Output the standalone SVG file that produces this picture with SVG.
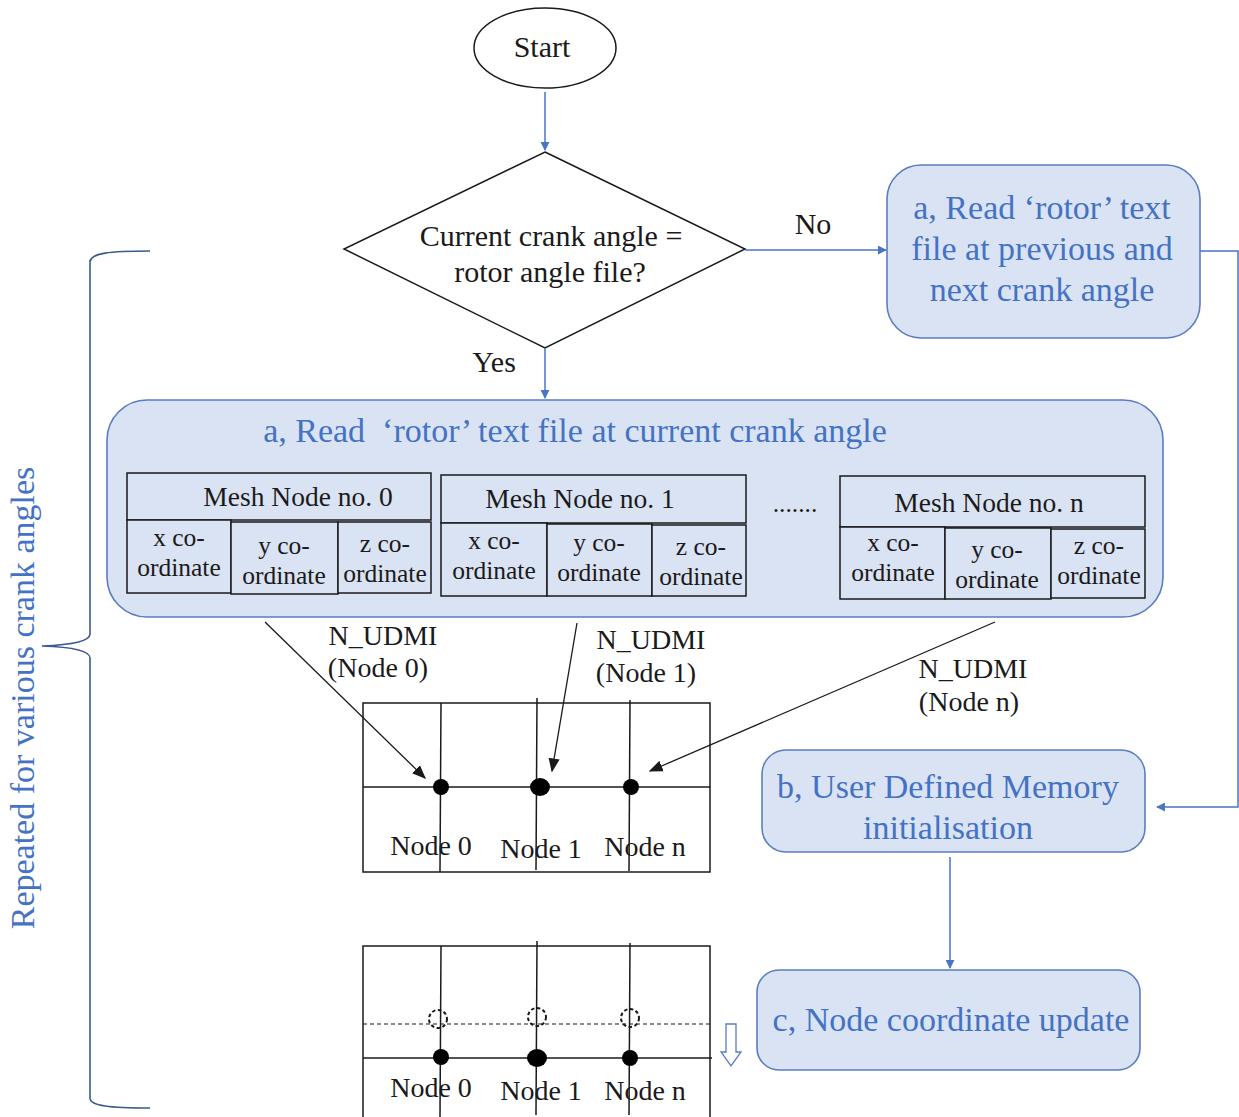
<svg xmlns="http://www.w3.org/2000/svg" width="1239" height="1117" viewBox="0 0 1239 1117">
  <style>
    .t { font-family: "Liberation Serif", "Times New Roman", serif; fill: #1a1a1a; font-size: 28px; }
    .big { font-size: 30px; }
    .hd { font-size: 27.5px; }
    .sm { font-size: 25.5px; }
    .blue { font-family: "Liberation Serif", "Times New Roman", serif; fill: #4472c4; font-size: 34px; }
    .box { fill: #dae3f3; stroke: #5a7dc0; stroke-width: 1.6; }
    .cell { fill: #dae3f3; stroke: #1a1a1a; stroke-width: 1.5; }
    .flow { fill: none; stroke: #4a74c4; stroke-width: 1.5; }
    .ptr { fill: none; stroke: #1a1a1a; stroke-width: 1.3; }
    .grid { fill: none; stroke: #1a1a1a; stroke-width: 1.5; }
  </style>
  <defs>
    <marker id="ab" viewBox="0 0 10 10" refX="9" refY="5" markerWidth="9" markerHeight="9" markerUnits="userSpaceOnUse" orient="auto">
      <path d="M0,0 L10,5 L0,10 z" fill="#4a74c4"/>
    </marker>
    <marker id="ak" viewBox="0 0 10 10" refX="9" refY="5" markerWidth="14" markerHeight="14" markerUnits="userSpaceOnUse" orient="auto">
      <path d="M0,1 L10,5 L0,9 z" fill="#1a1a1a"/>
    </marker>
  </defs>

  <!-- start terminator -->
  <g id="start">
    <ellipse cx="545" cy="48" rx="71" ry="40" fill="#fff" stroke="#1a1a1a" stroke-width="1.5"/>
    <text class="t big" x="542" y="57" text-anchor="middle">Start</text>
  </g>

  <!-- decision -->
  <g id="decision">
    <polygon points="545,152 745,249 545,348 344,249" fill="#fff" stroke="#1a1a1a" stroke-width="1.5"/>
    <text class="t big" x="551" y="246" text-anchor="middle">Current crank angle =</text>
    <text class="t big" x="550" y="282" text-anchor="middle">rotor angle file?</text>
  </g>

  <!-- read at previous/next angle -->
  <g id="read-neighbours">
    <rect class="box" x="887" y="165" width="313" height="173" rx="34"/>
    <text class="blue" x="1042" y="219" text-anchor="middle">a, Read ‘rotor’ text</text>
    <text class="blue" x="1042" y="260" text-anchor="middle">file at previous and</text>
    <text class="blue" x="1042" y="301" text-anchor="middle">next crank angle</text>
  </g>

  <!-- read at current angle -->
  <g id="read-current">
    <rect class="box" x="107" y="400" width="1056" height="217" rx="40"/>
    <text class="blue" x="575" y="442" text-anchor="middle" xml:space="preserve">a, Read  ‘rotor’ text file at current crank angle</text>
    <text class="t sm" x="795" y="512" text-anchor="middle">.......</text>
  </g>

  <g id="mesh-node-0">
    <rect class="cell" x="127" y="473" width="304" height="47"/>
    <rect class="cell" x="127" y="520" width="104" height="73"/>
    <rect class="cell" x="231" y="522" width="107" height="72" stroke-width="2.2"/>
    <rect class="cell" x="338" y="522" width="93" height="71"/>
    <text class="t hd" x="298" y="506" text-anchor="middle">Mesh Node no. 0</text>
    <text class="t sm" x="179" y="546" text-anchor="middle">x co-</text>
    <text class="t sm" x="179" y="576" text-anchor="middle">ordinate</text>
    <text class="t sm" x="284" y="554" text-anchor="middle">y co-</text>
    <text class="t sm" x="284" y="584" text-anchor="middle">ordinate</text>
    <text class="t sm" x="385" y="552" text-anchor="middle">z co-</text>
    <text class="t sm" x="385" y="582" text-anchor="middle">ordinate</text>
  </g>

  <g id="mesh-node-1">
    <rect class="cell" x="441" y="475" width="305" height="48"/>
    <rect class="cell" x="441" y="523" width="106" height="73"/>
    <rect class="cell" x="547" y="524" width="105" height="72"/>
    <rect class="cell" x="652" y="525" width="94" height="71"/>
    <text class="t hd" x="580" y="508" text-anchor="middle">Mesh Node no. 1</text>
    <text class="t sm" x="494" y="549" text-anchor="middle">x co-</text>
    <text class="t sm" x="494" y="579" text-anchor="middle">ordinate</text>
    <text class="t sm" x="599" y="551" text-anchor="middle">y co-</text>
    <text class="t sm" x="599" y="581" text-anchor="middle">ordinate</text>
    <text class="t sm" x="701" y="555" text-anchor="middle">z co-</text>
    <text class="t sm" x="701" y="585" text-anchor="middle">ordinate</text>
  </g>

  <g id="mesh-node-n">
    <rect class="cell" x="840" y="476" width="305" height="51"/>
    <rect class="cell" x="840" y="527" width="105" height="72"/>
    <rect class="cell" x="945" y="528" width="106" height="71"/>
    <rect class="cell" x="1051" y="529" width="94" height="69"/>
    <text class="t hd" x="989" y="512" text-anchor="middle">Mesh Node no. n</text>
    <text class="t sm" x="893" y="551" text-anchor="middle">x co-</text>
    <text class="t sm" x="893" y="581" text-anchor="middle">ordinate</text>
    <text class="t sm" x="997" y="558" text-anchor="middle">y co-</text>
    <text class="t sm" x="997" y="588" text-anchor="middle">ordinate</text>
    <text class="t sm" x="1099" y="554" text-anchor="middle">z co-</text>
    <text class="t sm" x="1099" y="584" text-anchor="middle">ordinate</text>
  </g>

  <!-- UDM initialisation -->
  <g id="udm-init">
    <rect class="box" x="762" y="750" width="383" height="102" rx="24"/>
    <text class="blue" x="948" y="798" text-anchor="middle">b, User Defined Memory</text>
    <text class="blue" x="948" y="839" text-anchor="middle">initialisation</text>
  </g>

  <!-- coordinate update -->
  <g id="coord-update">
    <rect class="box" x="757" y="970" width="383" height="100" rx="22"/>
    <text class="blue" x="951" y="1031" text-anchor="middle">c, Node coordinate update</text>
  </g>

  <!-- mesh before update -->
  <g id="mesh-before">
    <rect class="grid" x="363" y="703" width="347" height="169"/>
    <line class="grid" x1="363" y1="787" x2="710" y2="787"/>
    <line class="grid" x1="441" y1="703" x2="440" y2="872"/>
    <line class="grid" x1="537" y1="698" x2="536" y2="870"/>
    <line class="grid" x1="630" y1="700" x2="629" y2="871"/>
    <circle cx="441" cy="787" r="8" fill="#000"/>
    <ellipse cx="540" cy="787" rx="10" ry="9" fill="#000"/>
    <circle cx="631" cy="787" r="8" fill="#000"/>
    <text class="t" x="431" y="855" text-anchor="middle">Node 0</text>
    <text class="t" x="541" y="858" text-anchor="middle">Node 1</text>
    <text class="t" x="645" y="856" text-anchor="middle">Node n</text>
  </g>

  <!-- mesh after update -->
  <g id="mesh-after">
    <rect class="grid" x="363" y="946" width="347" height="175"/>
    <line x1="363" y1="1024" x2="710" y2="1024" stroke="#1a1a1a" stroke-width="1.2" stroke-dasharray="4,3"/>
    <line class="grid" x1="363" y1="1058" x2="712" y2="1058"/>
    <line class="grid" x1="441" y1="946" x2="440" y2="1117"/>
    <line class="grid" x1="537" y1="941" x2="536" y2="1115"/>
    <line class="grid" x1="630" y1="943" x2="629" y2="1115"/>
    <g fill="none" stroke="#1a1a1a" stroke-width="2" stroke-dasharray="3.5,2.5">
      <circle cx="438" cy="1019" r="9"/>
      <circle cx="537" cy="1017" r="9"/>
      <circle cx="630" cy="1018" r="9"/>
    </g>
    <circle cx="441" cy="1057" r="8" fill="#000"/>
    <ellipse cx="537" cy="1058" rx="10" ry="9" fill="#000"/>
    <circle cx="630" cy="1058" r="8" fill="#000"/>
    <text class="t" x="431" y="1097" text-anchor="middle">Node 0</text>
    <text class="t" x="541" y="1100" text-anchor="middle">Node 1</text>
    <text class="t" x="645" y="1100" text-anchor="middle">Node n</text>
    <path d="M726,1024 h10 v28 h5 l-10,14 l-10,-14 h5 z" fill="#fff" stroke="#5a7dc0" stroke-width="1.3"/>
  </g>

  <!-- repeat bracket -->
  <g id="repeat">
    <path d="M150,251 C110,251 90,253 90,262 L90,634 C90,642 70,645 42,646 C70,647 90,650 90,658 L90,1098 C90,1106 110,1108 150,1108" fill="none" stroke="#3d5a8c" stroke-width="1.6"/>
    <text class="blue" transform="translate(34,698) rotate(-90)" text-anchor="middle">Repeated for various crank angles</text>
  </g>

  <!-- connectors -->
  <g id="connectors">
    <line class="flow" x1="545" y1="92" x2="545" y2="150" marker-end="url(#ab)"/>
    <line class="flow" x1="745" y1="250" x2="886" y2="250" marker-end="url(#ab)"/>
    <text class="t big" x="813" y="234" text-anchor="middle">No</text>
    <line class="flow" x1="545" y1="348" x2="545" y2="398" marker-end="url(#ab)"/>
    <text class="t big" x="494" y="372" text-anchor="middle">Yes</text>
    <polyline class="flow" points="1200,251 1238,251 1238,807 1157,807" marker-end="url(#ab)"/>
    <line class="flow" x1="950" y1="857" x2="950" y2="968" marker-end="url(#ab)"/>

    <line class="ptr" x1="265" y1="622" x2="425" y2="778" marker-end="url(#ak)"/>
    <text class="t" x="383" y="645" text-anchor="middle">N_UDMI</text>
    <text class="t" x="378" y="677" text-anchor="middle">(Node 0)</text>
    <line class="ptr" x1="577" y1="623" x2="552" y2="771" marker-end="url(#ak)"/>
    <text class="t" x="651" y="649" text-anchor="middle">N_UDMI</text>
    <text class="t" x="646" y="682" text-anchor="middle">(Node 1)</text>
    <line class="ptr" x1="995" y1="622" x2="650" y2="771" marker-end="url(#ak)"/>
    <text class="t" x="973" y="678" text-anchor="middle">N_UDMI</text>
    <text class="t" x="969" y="711" text-anchor="middle">(Node n)</text>
  </g>
</svg>
